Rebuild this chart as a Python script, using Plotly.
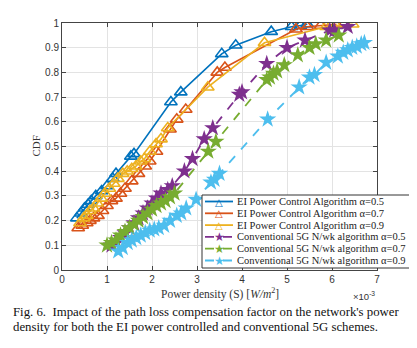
import plotly.graph_objects as go

# x values in units of 1e-3 W/m^2
ei05_x = [0.33, 0.42, 0.5, 0.58, 0.65, 0.75, 0.88, 1.0, 1.13, 1.2, 1.53, 1.6, 2.42, 2.64, 3.55, 3.86, 4.65, 5.1, 5.3, 5.45]
ei05_y = [0.21, 0.23, 0.25, 0.265, 0.28, 0.30, 0.32, 0.34, 0.37, 0.39, 0.46, 0.47, 0.68, 0.72, 0.875, 0.91, 0.965, 0.985, 0.99, 0.995]

ei07_x = [0.36, 0.45, 0.55, 0.62, 0.7, 0.8, 0.9, 1.0, 1.1, 1.2, 1.3, 1.4, 1.55, 1.7, 1.85, 1.95, 2.1, 2.4, 2.55, 2.75, 3.45, 3.62, 5.2, 5.45, 5.75, 6.1]
ei07_y = [0.17, 0.18, 0.19, 0.20, 0.21, 0.22, 0.24, 0.26, 0.28, 0.29, 0.31, 0.33, 0.36, 0.39, 0.42, 0.44, 0.48, 0.57, 0.61, 0.65, 0.80, 0.82, 0.975, 0.985, 0.99, 0.995]

ei09_x = [0.4, 0.48, 0.55, 0.62, 0.7, 0.78, 0.87, 0.95, 1.05, 1.15, 1.24, 1.35, 1.45, 1.55, 1.64, 1.75, 1.83, 1.95, 2.09, 2.2, 2.35, 3.24, 4.5, 5.87, 6.09, 6.46]
ei09_y = [0.19, 0.21, 0.22, 0.24, 0.25, 0.27, 0.29, 0.31, 0.33, 0.35, 0.37, 0.39, 0.40, 0.41, 0.42, 0.44, 0.45, 0.48, 0.51, 0.53, 0.575, 0.74, 0.92, 0.985, 0.99, 0.995]

c05_x = [1.1, 1.2, 1.3, 1.4, 1.5, 1.6, 1.7, 1.8, 1.9, 2.0, 2.1, 2.2, 2.35, 2.45, 2.72, 2.9, 3.16, 3.35, 3.94, 4.0, 4.55, 5.0, 5.4, 5.95, 6.05, 6.35]
c05_y = [0.10, 0.11, 0.13, 0.15, 0.17, 0.19, 0.21, 0.23, 0.25, 0.27, 0.29, 0.31, 0.325, 0.34, 0.40, 0.45, 0.53, 0.575, 0.71, 0.72, 0.835, 0.90, 0.93, 0.97, 0.97, 0.985]

c07_x = [1.0, 1.1, 1.2, 1.3, 1.4, 1.5, 1.6, 1.7, 1.8, 1.9, 2.0, 2.1, 2.2, 2.3, 2.4, 2.5, 3.25, 3.42, 4.55, 4.62, 4.7, 4.78, 4.94, 5.24, 5.5, 5.64, 5.87, 6.15]
c07_y = [0.10, 0.11, 0.12, 0.14, 0.155, 0.17, 0.185, 0.20, 0.215, 0.23, 0.245, 0.26, 0.27, 0.28, 0.295, 0.31, 0.48, 0.52, 0.77, 0.78, 0.795, 0.805, 0.83, 0.87, 0.90, 0.915, 0.93, 0.95]

c09_x = [1.25, 1.35, 1.46, 1.55, 1.65, 1.75, 1.85, 1.95, 2.05, 2.15, 2.27, 2.4, 2.55, 2.65, 2.76, 2.98, 3.31, 3.39, 3.5, 4.57, 5.27, 5.5, 5.61, 5.87, 6.13, 6.25, 6.35, 6.45, 6.55, 6.65, 6.72]
c09_y = [0.076, 0.09, 0.11, 0.12, 0.13, 0.14, 0.15, 0.16, 0.165, 0.17, 0.18, 0.20, 0.22, 0.23, 0.25, 0.285, 0.355, 0.366, 0.39, 0.61, 0.74, 0.78, 0.79, 0.84, 0.865, 0.88, 0.89, 0.90, 0.905, 0.915, 0.92]

x_ticks = [0, 1, 2, 3, 4, 5, 6, 7]
y_ticks = [0, 0.1, 0.2, 0.3, 0.4, 0.5, 0.6, 0.7, 0.8, 0.9, 1]
y_tick_labels = ["0", "0.1", "0.2", "0.3", "0.4", "0.5", "0.6", "0.7", "0.8", "0.9", "1"]

names = [
    "EI Power Control Algorithm α=0.5",
    "EI Power Control Algorithm α=0.7",
    "EI Power Control Algorithm α=0.9",
    "Conventional 5G N/wk algorithm α=0.5",
    "Conventional 5G N/wk algorithm α=0.7",
    "Conventional 5G N/wk algorithm α=0.9",
]
colors = ["#0072BD", "#D95319", "#EDB120", "#7E2F8E", "#77AC30", "#4DBEEE"]
series = [(ei05_x, ei05_y), (ei07_x, ei07_y), (ei09_x, ei09_y),
          (c05_x, c05_y), (c07_x, c07_y), (c09_x, c09_y)]

SERIF = "Liberation Serif, Times New Roman, serif"
SANS = "Liberation Sans, Arial, sans-serif"

fig = go.Figure()
for i, ((xs, ys), name, col) in enumerate(zip(series, names, colors)):
    if i < 3:
        fig.add_trace(go.Scatter(
            x=xs, y=ys, name=name, mode="lines+markers", showlegend=False,
            line=dict(color=col, width=1.6),
            marker=dict(symbol="triangle-up-open", size=11, color=col, line=dict(width=1.6, color=col)),
        ))
    else:
        fig.add_trace(go.Scatter(
            x=xs, y=ys, name=name, mode="lines+markers", showlegend=False,
            line=dict(color=col, width=1.8, dash="dash"),
            marker=dict(symbol="star", size=13, color=col, line=dict(width=0)),
        ))

axis_common = dict(
    showline=True, linecolor="#444", linewidth=1, mirror="ticks",
    ticks="inside", ticklen=4, tickcolor="#444",
    showgrid=True, gridcolor="#e3e3e3", gridwidth=1, zeroline=False,
    tickfont=dict(family=SANS, size=10, color="#333"),
)

fig.update_layout(
    width=417, height=348,
    margin=dict(l=54, r=48, t=15, b=86, autoexpand=False),
    paper_bgcolor="white", plot_bgcolor="white",
    showlegend=False,
    xaxis=dict(range=[0, 7], tickvals=x_ticks, ticktext=[str(t) for t in x_ticks], **axis_common),
    yaxis=dict(range=[0, 1], tickvals=y_ticks, ticktext=y_tick_labels, **axis_common),
)

# ---- hand-built legend (compact, MATLAB-like) ----
PW, PH, L, B = 315.0, 247.0, 54.0, 262.0   # plot area size / origin in pixels
def px(xp):
    return (xp - L) / PW
def py(yp):
    return (B - yp) / PH

box_l, box_r, box_t, box_b = 194, 402, 187, 260
row0, row_h = 193.5, 11.8
shapes = [dict(type="rect", xref="paper", yref="paper", layer="above",
               x0=px(box_l), x1=px(box_r), y0=py(box_b), y1=py(box_t),
               fillcolor="white", line=dict(color="#333", width=1))]
annotations = []
for i, (name, col) in enumerate(zip(names, colors)):
    yc = row0 + i * row_h
    shapes.append(dict(type="line", xref="paper", yref="paper", layer="above",
                       x0=px(197), x1=px(225), y0=py(yc), y1=py(yc),
                       line=dict(color=col, width=1.8, dash="solid" if i < 3 else "dash")))
    glyph = "△" if i < 3 else "★"
    annotations.append(dict(text=glyph, xref="paper", yref="paper", x=px(211), y=py(yc + 0.5),
                            xanchor="center", yanchor="middle", showarrow=False, borderpad=0,
                            font=dict(family="DejaVu Sans", size=10 if i < 3 else 12, color=col)))
    annotations.append(dict(text=name, xref="paper", yref="paper", x=px(228), y=py(yc),
                            xanchor="left", yanchor="middle", showarrow=False, borderpad=0,
                            font=dict(family=SERIF, size=10.5, color="#222")))

annotations += [
    dict(text="Power density (S) [<i>W/m</i><sup>2</sup>]", xref="paper", yref="paper",
         x=px(212), y=py(285.5), xanchor="center", yanchor="middle", showarrow=False,
         font=dict(family=SERIF, size=11.5, color="#333")),
    dict(text="CDF", xref="paper", yref="paper", x=px(27), y=py(138.5), textangle=-90,
         xanchor="center", yanchor="middle", showarrow=False,
         font=dict(family=SERIF, size=11, color="#333")),
    dict(text="×10<sup>-3</sup>", xref="paper", yref="paper", x=px(369), y=py(288),
         xanchor="right", yanchor="middle", showarrow=False,
         font=dict(family=SANS, size=9.5, color="#333")),
    dict(text="Fig. 6.  Impact of the path loss compensation factor on the network's power",
         xref="paper", yref="paper", x=px(3), y=py(303.5), xanchor="left", yanchor="middle",
         showarrow=False, font=dict(family=SERIF, size=12.8, color="#111")),
    dict(text="density for both the EI power controlled and conventional 5G schemes.",
         xref="paper", yref="paper", x=px(3), y=py(318.5), xanchor="left", yanchor="middle",
         showarrow=False, font=dict(family=SERIF, size=12.8, color="#111")),
]

fig.update_layout(shapes=shapes, annotations=annotations)
fig.write_html("out.html")
